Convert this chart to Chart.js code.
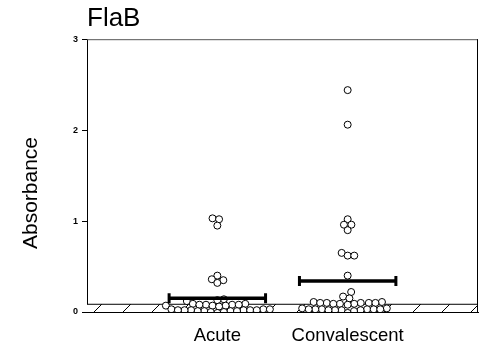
<!DOCTYPE html>
<html><head><meta charset="utf-8">
<script src="https://cdn.jsdelivr.net/npm/chart.js@4/dist/chart.umd.min.js"></script>
<style>html,body{margin:0;padding:0;background:#fff}</style>
</head><body>
<canvas id="c" width="481" height="350"></canvas>
<script>
const chartTitle = 'FlaB';
const yTitle = 'Absorbance';
const categories = ['Acute', 'Convalescent'];
const yTicks = [0, 1, 2, 3];
const acute = [1.03, 1.02, 0.95, 0.40, 0.36, 0.35, 0.32,
  0.14, 0.13, 0.12, 0.09, 0.09, 0.08, 0.08, 0.08, 0.08, 0.07, 0.07, 0.07, 0.06,
  0.03, 0.03, 0.03, 0.02, 0.02, 0.02, 0.02, 0.02, 0.02, 0.01, 0.01, 0.01, 0.01, 0.00, 0.00, -0.01];
const convalescent = [2.44, 2.06, 1.02, 0.96, 0.96, 0.90, 0.65, 0.62, 0.62, 0.40, 0.22, 0.17, 0.15,
  0.11, 0.11, 0.10, 0.10, 0.10, 0.10, 0.10, 0.09, 0.09, 0.09, 0.08,
  0.04, 0.04, 0.03, 0.03, 0.03, 0.03, 0.03, 0.03, 0.02, 0.02, 0.02, 0.02, 0.01, -0.01];
const means = [0.15, 0.34];
const cutoff = 0.085;

const FONT = "'Liberation Sans', Arial, sans-serif";
const groups = [acute, convalescent];
const halfWidth = 0.37;

// hatch pattern for cutoff band
const pc = document.createElement('canvas');
pc.width = 29; pc.height = 29;
const pctx = pc.getContext('2d');
pctx.fillStyle = '#fff'; pctx.fillRect(0, 0, 29, 29);
pctx.strokeStyle = '#000'; pctx.lineWidth = 1;
pctx.beginPath(); pctx.moveTo(-2, 31); pctx.lineTo(31, -2); pctx.stroke();
const hatch = document.getElementById('c').getContext('2d').createPattern(pc, 'repeat');

const datasets = [];
datasets.push({
  type: 'line', data: [{x: 0, y: cutoff}, {x: 3, y: cutoff}],
  borderColor: '#000', borderWidth: 1, pointRadius: 0, fill: 'origin',
  backgroundColor: hatch, order: 3
});
groups.forEach((g, i) => {
  datasets.push({
    type: 'scatter', data: g.map(v => ({x: i + 1, y: v})),
    pointRadius: 3.5, pointBorderWidth: 1, pointBorderColor: '#000',
    pointBackgroundColor: '#fff', order: 2
  });
});
means.forEach((m, i) => {
  datasets.push({
    type: 'line', data: [{x: i + 1 - halfWidth, y: m}, {x: i + 1 + halfWidth, y: m}],
    borderColor: '#000', borderWidth: 3.5, pointStyle: 'line', pointRotation: 90,
    pointRadius: 5, pointBorderWidth: 3, pointBorderColor: '#000', order: 1
  });
});

const extras = {
  id: 'extras',
  afterDraw(chart) {
    const {ctx, chartArea: a} = chart;
    ctx.save();
    ctx.strokeStyle = '#555'; ctx.lineWidth = 1;
    ctx.beginPath(); ctx.moveTo(a.left, a.top + 0.5); ctx.lineTo(a.right, a.top + 0.5); ctx.stroke();
    ctx.strokeStyle = '#000';
    ctx.beginPath(); ctx.moveTo(a.right - 0.5, a.top); ctx.lineTo(a.right - 0.5, a.bottom); ctx.stroke();
    ctx.translate(31, 193); ctx.rotate(-Math.PI / 2);
    ctx.fillStyle = '#000'; ctx.font = '21px ' + FONT;
    ctx.textAlign = 'center'; ctx.textBaseline = 'middle';
    ctx.fillText(yTitle, 0, 0);
    ctx.restore();
  }
};

const chart = new Chart(document.getElementById('c'), {
  data: {datasets},
  options: {
    responsive: false, animation: false, devicePixelRatio: 1,
    layout: {autoPadding: false, padding: {right: 3, left: 0, top: 0, bottom: 0}},
    plugins: {
      legend: {display: false}, tooltip: {enabled: false},
      title: {display: true, text: chartTitle, align: 'start', fullSize: false,
        color: '#000', font: {family: FONT, size: 26, weight: 'normal'},
        padding: {top: 3, bottom: 5}}
    },
    scales: {
      x: {type: 'linear', min: 0, max: 3,
        afterBuildTicks: s => { s.ticks = categories.map((c, i) => ({value: i + 1})); },
        afterFit: s => { s.height = 38; s.paddingLeft = 0; s.paddingRight = 0; },
        ticks: {callback: (v) => categories[v - 1], color: '#000', padding: 5,
          font: {family: FONT, size: 18.5}, maxRotation: 0, autoSkip: false},
        grid: {display: false}, border: {display: true, color: '#000', width: 1}},
      y: {type: 'linear', min: 0, max: 3,
        afterBuildTicks: s => { s.ticks = yTicks.map(v => ({value: v})); },
        afterFit: s => { s.width = 87; },
        ticks: {color: '#000', padding: 4, font: {family: FONT, size: 9, weight: 'bold'}},
        grid: {drawOnChartArea: false, drawTicks: true, tickLength: 5, color: '#000'},
        border: {display: true, color: '#000', width: 1}}
    }
  },
  plugins: [extras]
});

// beeswarm spreading of points, computed with the chart's own scales
function swarm(values, center, xs, ys, D) {
  const cx = xs.getPixelForValue(center);
  const items = values.map((v, i) => ({v, i, py: ys.getPixelForValue(v)}));
  items.sort((a, b) => a.v - b.v);
  const placed = [];
  const out = new Array(values.length);
  for (const it of items) {
    const cands = [0];
    for (const p of placed) {
      const dy = it.py - p.py;
      if (Math.abs(dy) < D) {
        const dx = Math.sqrt(D * D - dy * dy);
        cands.push(p.dx + dx, p.dx - dx);
      }
    }
    cands.sort((a, b) => Math.abs(a) - Math.abs(b));
    let chosen = 0;
    for (const c of cands) {
      if (placed.every(p => (p.dx - c) ** 2 + (p.py - it.py) ** 2 >= D * D - 0.01)) { chosen = c; break; }
    }
    placed.push({dx: chosen, py: it.py});
    out[it.i] = {x: xs.getValueForPixel(cx + chosen), y: it.v};
  }
  return out;
}
groups.forEach((g, i) => {
  chart.data.datasets[1 + i].data = swarm(g, i + 1, chart.scales.x, chart.scales.y, 6.6);
});
chart.update('none');
</script>
</body></html>
